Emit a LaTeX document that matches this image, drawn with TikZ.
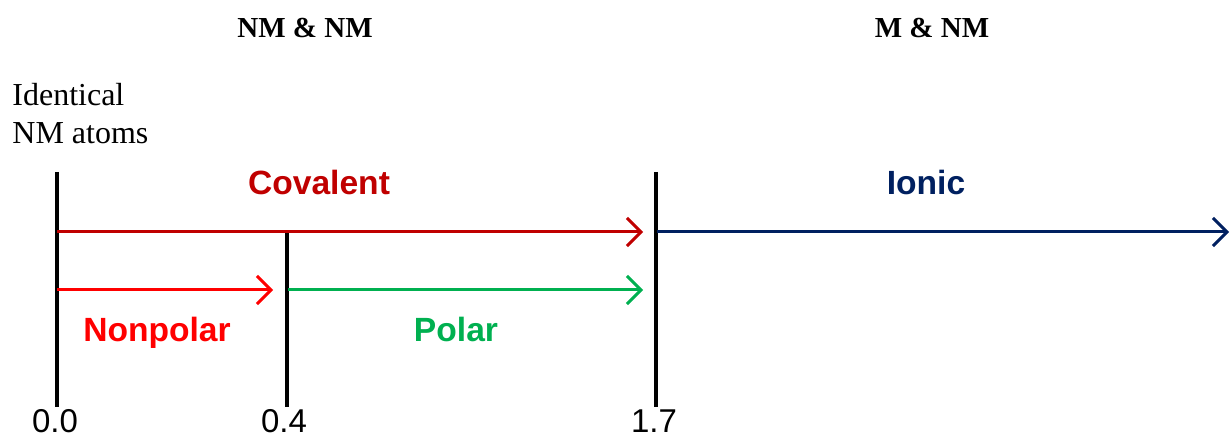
\documentclass[tikz,border=0pt]{standalone}
\usepackage{fontspec}
\setmainfont{Liberation Serif}
\setsansfont{Liberation Sans}
\usetikzlibrary{arrows.meta}
\definecolor{covred}{HTML}{C00000}
\definecolor{nonred}{HTML}{FF0000}
\definecolor{polgreen}{HTML}{00B050}
\definecolor{ionblue}{HTML}{002060}
\tikzset{
  tick/.style={line width=1.6pt, black},
  scalearrow/.style={line width=1.5pt, -{Straight Barb[length=7pt, width=14pt, line width=1.5pt]}},
  kind/.style={font=\sffamily\bfseries\fontsize{16.8}{18}\selectfont, anchor=base},
  pair/.style={font=\bfseries\fontsize{14.5}{16}\selectfont, anchor=base},
  value/.style={font=\sffamily\fontsize{16.5}{18}\selectfont, anchor=base}
}
\begin{document}
\begin{tikzpicture}[x=0.5pt, y=-0.5pt]
  \useasboundingbox (0,0) rectangle (1230,437);
  % ticks on the scale
  \coordinate (z0) at (57,172);  \coordinate (z0b) at (57,407);
  \coordinate (z4) at (287,232); \coordinate (z4b) at (287,407);
  \coordinate (z17) at (656,172); \coordinate (z17b) at (656,407);
  \draw[tick] (z0) -- (z0b);
  \draw[tick] (z4) -- (z4b);
  \draw[tick] (z17) -- (z17b);
  % arrows
  \coordinate (cov0) at (57,232);  \coordinate (cov1) at (643,232);
  \coordinate (ion0) at (657,232); \coordinate (ion1) at (1229,232);
  \coordinate (np0) at (57,290);   \coordinate (np1) at (273,290);
  \coordinate (pol0) at (288,290); \coordinate (pol1) at (643,290);
  \draw[scalearrow, covred] (cov0) -- (cov1);
  \draw[scalearrow, ionblue] (ion0) -- (ion1);
  \draw[scalearrow, nonred] (np0) -- (np1);
  \draw[scalearrow, polgreen] (pol0) -- (pol1);
  % labels
  \node[pair] (nmnm) at (305,38) {NM \& NM};
  \node[pair] (mnm) at (932,38) {M \& NM};
  \node[anchor=base west, align=left, font=\fontsize{16}{19}\selectfont, inner sep=0pt] (ident) at (12,144) {Identical\\NM atoms};
  \node[kind, covred] (cov) at (319,195) {Covalent};
  \node[kind, ionblue] (ion) at (926,195) {Ionic};
  \node[kind, nonred] (np) at (157,342) {Nonpolar};
  \node[kind, polgreen] (pol) at (456,342) {Polar};
  \node[value] (v0) at (55,433) {0.0};
  \node[value] (v4) at (284,433) {0.4};
  \node[value] (v17) at (654,433) {1.7};
\end{tikzpicture}
\end{document}
